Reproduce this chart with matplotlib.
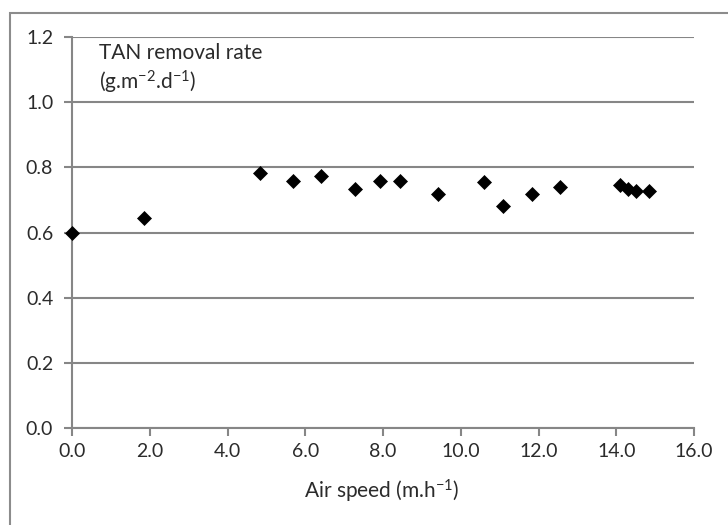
import matplotlib
matplotlib.use("Agg")
import matplotlib.pyplot as plt
from matplotlib.patches import Rectangle

# Data
air_speed = [0.0, 1.85, 4.84, 5.68, 6.41, 7.28, 7.91, 8.44, 9.42, 10.60,
             11.08, 11.83, 12.56, 14.10, 14.31, 14.51, 14.84]
tan_rate = [0.598, 0.644, 0.781, 0.759, 0.774, 0.734, 0.757, 0.758, 0.718, 0.756,
            0.682, 0.718, 0.740, 0.746, 0.733, 0.728, 0.726]
x_ticks = [0, 2, 4, 6, 8, 10, 12, 14, 16]
y_ticks = [0.0, 0.2, 0.4, 0.6, 0.8, 1.0, 1.2]

FONT = "Lato"
plt.rcParams["font.family"] = [FONT, "DejaVu Sans"]
plt.rcParams["mathtext.fontset"] = "custom"
plt.rcParams["mathtext.rm"] = FONT
plt.rcParams["mathtext.it"] = FONT
plt.rcParams["mathtext.default"] = "regular"

W, H = 728, 525
fig = plt.figure(figsize=(W / 100, H / 100), dpi=100)

# outer chart border (gray), cropped at right and bottom
fig.add_artist(Rectangle((10 / W, -0.1), 1.2, (H - 13) / H + 0.1, transform=fig.transFigure,
                         fill=False, edgecolor="#8c8c8c", linewidth=1.5))

ax = fig.add_axes([72 / W, 96.7 / H, (694 - 72) / W, (428.3 - 36.7) / H])
ax.set_xlim(0, 16)
ax.set_ylim(0, 1.2)

grid_c = "#868686"
text_c = "#2b2b2b"
ax.set_yticks(y_ticks)
ax.set_xticks(x_ticks)
ax.set_yticklabels([f"{v:.1f}" for v in y_ticks])
ax.set_xticklabels([f"{v:.1f}" for v in x_ticks])
ax.yaxis.grid(True, color=grid_c, linewidth=1.5)
ax.set_axisbelow(True)
for s in ["top", "right"]:
    ax.spines[s].set_visible(False)
for s in ["left", "bottom"]:
    ax.spines[s].set_color(grid_c)
    ax.spines[s].set_linewidth(1.5)
ax.tick_params(axis="both", colors=grid_c, width=1.5, length=5.5,
               labelcolor=text_c, labelsize=14)
ax.tick_params(axis="y", pad=8)
ax.tick_params(axis="x", pad=5)

ax.plot(air_speed, tan_rate, linestyle="none", marker="D", markersize=7.2,
        color="black", markeredgewidth=0.5, clip_on=False, zorder=3)

fig.text(382.2 / W, (H - 498.3) / H, "Air speed (m.h$^{-1}$)", fontsize=15,
         color=text_c, va="baseline", ha="center")

fig.text(99 / W, (H - 59.3) / H, "TAN removal rate",
         fontsize=15, color=text_c, va="baseline", ha="left")
fig.text(99 / W, (H - 89.5) / H, "(g.m$^{-2}$.d$^{-1}$)",
         fontsize=15, color=text_c, va="baseline", ha="left")

fig.savefig("out.png", dpi=100)
